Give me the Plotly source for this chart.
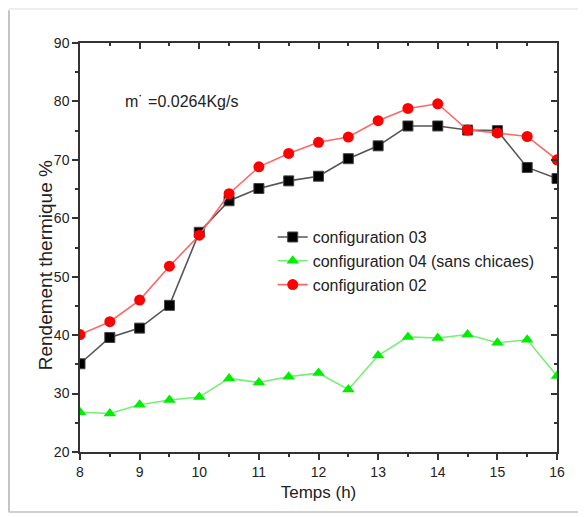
import plotly.graph_objects as go

temps = [8, 8.5, 9, 9.5, 10, 10.5, 11, 11.5, 12, 12.5, 13, 13.5, 14, 14.5, 15, 15.5, 16]
config03 = [35.1, 39.6, 41.2, 45.1, 57.6, 63.0, 65.1, 66.4, 67.2, 70.2, 72.4, 75.8, 75.8, 75.1, 75.0, 68.7, 66.8]
config04 = [26.8, 26.6, 28.1, 28.9, 29.4, 32.6, 31.9, 32.9, 33.5, 30.7, 36.5, 39.7, 39.5, 40.1, 38.7, 39.2, 33.0]
config02 = [40.1, 42.3, 46.0, 51.8, 57.1, 64.2, 68.8, 71.1, 73.0, 73.9, 76.7, 78.8, 79.6, 75.1, 74.6, 74.0, 70.0]
names = ["configuration 03", "configuration 04 (sans chicaes)", "configuration 02"]
annotation_text = "m˙ =0.0264Kg/s"
x_title = "Temps (h)"
y_title = "Rendement thermique %"

FONT = "Liberation Sans, Arial, sans-serif"

fig = go.Figure()
fig.add_trace(go.Scatter(
    x=temps, y=config03, name=names[0], mode="lines+markers",
    line=dict(color="#555555", width=1.6),
    marker=dict(symbol="square", size=10, color="#000000", line=dict(color="#444444", width=1)),
))
fig.add_trace(go.Scatter(
    x=temps, y=config04, name=names[1], mode="lines+markers",
    line=dict(color="#77ee77", width=1.6),
    marker=dict(symbol="triangle-up", size=11, color="#00ee00", line=dict(width=0)),
))
fig.add_trace(go.Scatter(
    x=temps, y=config02, name=names[2], mode="lines+markers",
    line=dict(color="#ff6666", width=1.6),
    marker=dict(symbol="circle", size=11, color="#ff0000", line=dict(width=0)),
))
# helper trace for mirrored (inside-tick) top/right axes
fig.add_trace(go.Scatter(x=[8], y=[20], xaxis="x2", yaxis="y2", mode="markers",
                         marker=dict(opacity=0), showlegend=False, hoverinfo="skip"))

axis_common = dict(showgrid=False, zeroline=False, showline=True, linecolor="#333333",
                   linewidth=1.5, tickcolor="#333333", tickwidth=1.5)

fig.update_layout(
    width=586, height=517,
    margin=dict(l=72, r=37, t=35, b=73),
    paper_bgcolor="white", plot_bgcolor="white",
    font=dict(family=FONT, color="#222222"),
    showlegend=True,
    legend=dict(x=0.404, y=0.567, xanchor="left", yanchor="top",
                bgcolor="rgba(0,0,0,0)", font=dict(size=16, family=FONT, color="#222222"),
                tracegroupgap=0, itemwidth=30),
    xaxis=dict(range=[8, 16], dtick=1, ticks="outside", ticklen=6,
               minor=dict(dtick=0.5, ticks="outside", ticklen=3, tickcolor="#333333"),
               tickfont=dict(size=14, family=FONT),
               title=dict(text=x_title, font=dict(size=17, family=FONT), standoff=8),
               **axis_common),
    yaxis=dict(range=[20, 90], dtick=10, ticks="outside", ticklen=6,
               minor=dict(dtick=5, ticks="outside", ticklen=3, tickcolor="#333333"),
               tickfont=dict(size=14, family=FONT),
               **axis_common),
    xaxis2=dict(range=[8, 16], overlaying="x", side="top", anchor="y2", dtick=1,
                ticks="inside", ticklen=6, showticklabels=False,
                minor=dict(dtick=0.5, ticks="inside", ticklen=3, tickcolor="#333333"),
                **axis_common),
    yaxis2=dict(range=[20, 90], overlaying="y", side="right", anchor="x2", dtick=10,
                ticks="inside", ticklen=6, showticklabels=False,
                minor=dict(dtick=5, ticks="inside", ticklen=3, tickcolor="#333333"),
                **axis_common),
    annotations=[
        dict(x=8.72, y=80, xref="x", yref="y", text=annotation_text, showarrow=False,
             xanchor="left", yanchor="middle", font=dict(size=16, family=FONT, color="#222222")),
        dict(x=-0.073, y=0.457, xref="paper", yref="paper", text=y_title, showarrow=False,
             textangle=-90, xanchor="center", yanchor="middle",
             font=dict(size=19, family=FONT, color="#222222")),
    ],
    shapes=[
        dict(type="line", xref="paper", yref="paper", x0=-0.1495, x1=-0.1495, y0=-0.147, y1=1.08,
             line=dict(color="#c4c4c4", width=2.5)),
        dict(type="line", xref="paper", yref="paper", x0=-0.1495, x1=1.058, y0=-0.147, y1=-0.147,
             line=dict(color="#d0d0d0", width=2)),
        dict(type="line", xref="paper", yref="paper", x0=-0.1495, x1=1.058, y0=1.083, y1=1.083,
             line=dict(color="#eeeeee", width=2)),
        dict(type="line", xref="paper", yref="paper", x0=1.058, x1=1.058, y0=-0.147, y1=1.083,
             line=dict(color="#f0f0f0", width=2)),
    ],
)

fig.write_html("out.html")
